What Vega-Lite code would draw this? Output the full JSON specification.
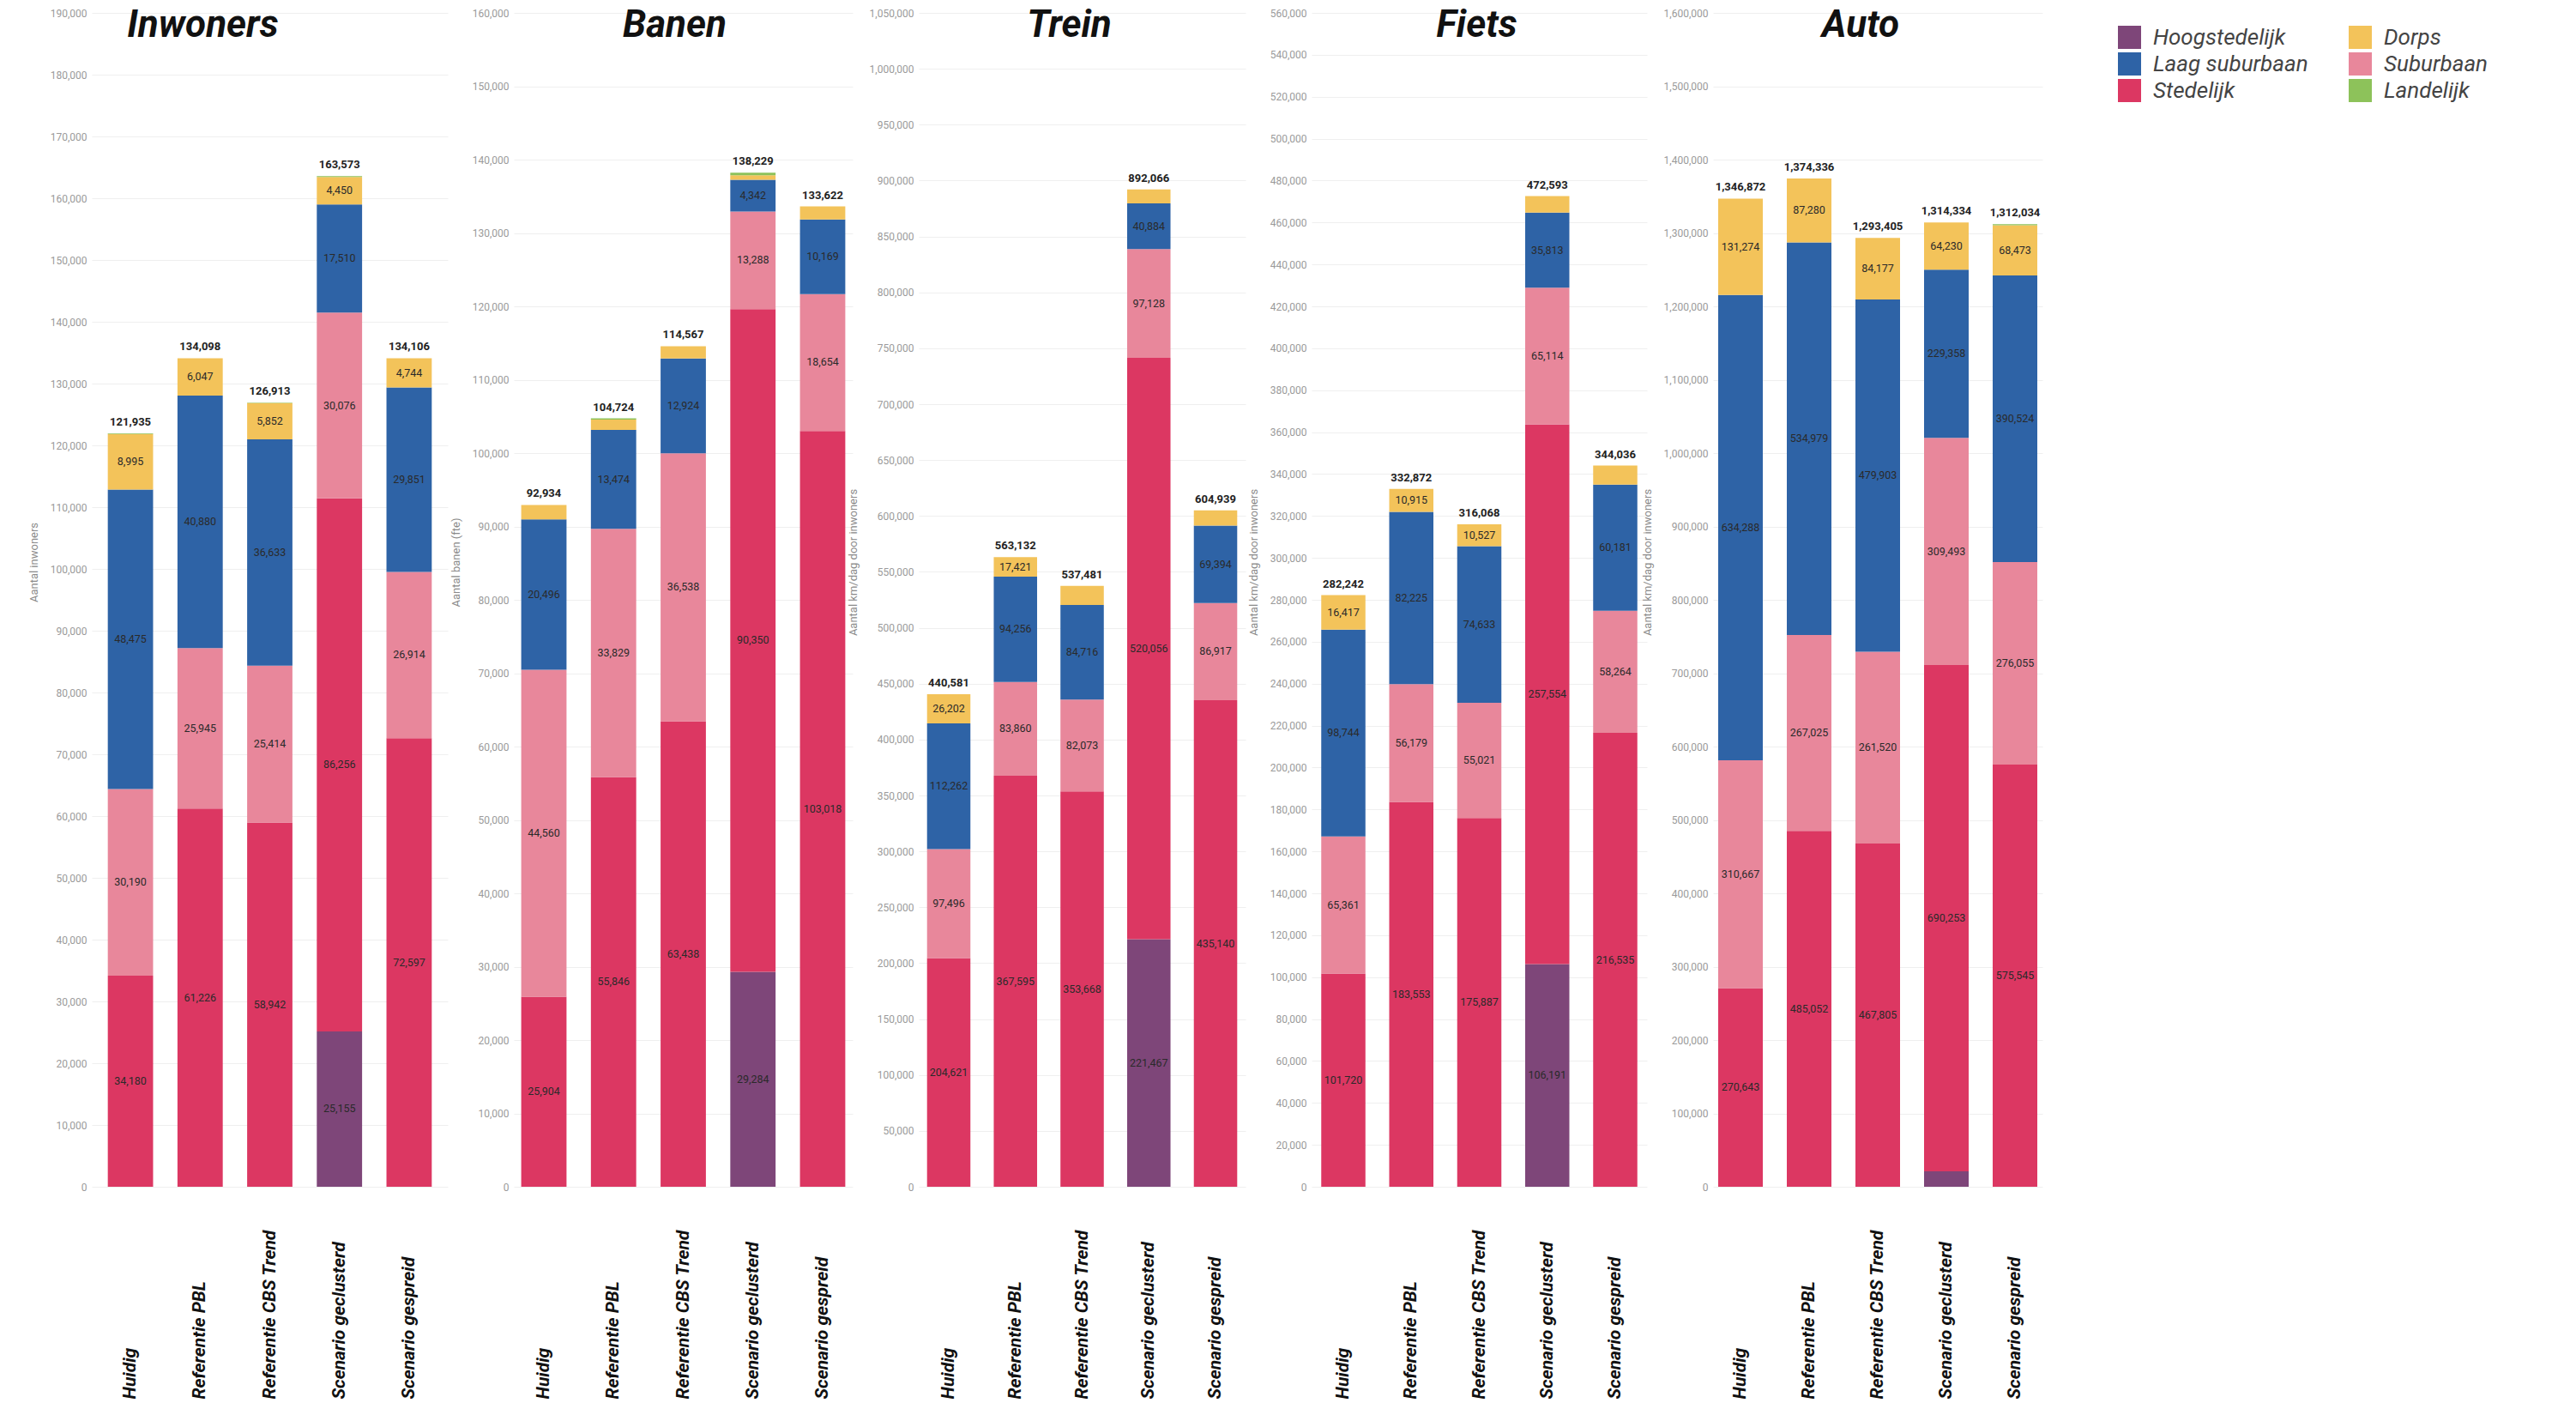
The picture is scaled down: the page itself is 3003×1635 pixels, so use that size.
{
  "$schema": "https://vega.github.io/schema/vega-lite/v6.json",
  "background": "white",
  "padding": {"left": 33, "top": 8, "right": 0, "bottom": 0},
  "spacing": 77,
  "bounds": "flush",
  "config": {
    "font": "Roboto",
    "view": {"stroke": null},
    "title": {"fontSize": 44, "fontWeight": "bold", "fontStyle": "italic", "font": "Liberation Sans Narrow, Roboto", "color": "#111111", "anchor": "middle", "frame": "group", "baseline": "alphabetic"},
    "axisY": {"format": ",d", "labelFontSize": 12, "labelColor": "#9a9a9a", "ticks": false, "domain": false, "gridColor": "#efefef", "titleFontSize": 13, "titleColor": "#8a8a8a", "titleFontWeight": "normal", "labelPadding": 6, "titleY": 640, "titlePadding": 12},
    "axisX": {"labelAngle": -90, "labelAlign": "left", "labelBaseline": "middle", "labelPadding": 247, "labelFontSize": 21, "labelFontWeight": "bold", "labelFontStyle": "italic", "labelColor": "#111111", "ticks": false, "domain": false, "grid": false, "labelLimit": 0}
  },
  "datasets": {
    "d": [
      {"p": "Inwoners", "s": "Huidig", "c": "Stedelijk", "v": 34180},
      {"p": "Inwoners", "s": "Huidig", "c": "Suburbaan", "v": 30190},
      {"p": "Inwoners", "s": "Huidig", "c": "Laag suburbaan", "v": 48475},
      {"p": "Inwoners", "s": "Huidig", "c": "Dorps", "v": 8995},
      {"p": "Inwoners", "s": "Huidig", "c": "Landelijk", "v": 95},
      {"p": "Inwoners", "s": "Referentie PBL", "c": "Stedelijk", "v": 61226},
      {"p": "Inwoners", "s": "Referentie PBL", "c": "Suburbaan", "v": 25945},
      {"p": "Inwoners", "s": "Referentie PBL", "c": "Laag suburbaan", "v": 40880},
      {"p": "Inwoners", "s": "Referentie PBL", "c": "Dorps", "v": 6047},
      {"p": "Inwoners", "s": "Referentie CBS Trend", "c": "Stedelijk", "v": 58942},
      {"p": "Inwoners", "s": "Referentie CBS Trend", "c": "Suburbaan", "v": 25414},
      {"p": "Inwoners", "s": "Referentie CBS Trend", "c": "Laag suburbaan", "v": 36633},
      {"p": "Inwoners", "s": "Referentie CBS Trend", "c": "Dorps", "v": 5852},
      {"p": "Inwoners", "s": "Referentie CBS Trend", "c": "Landelijk", "v": 72},
      {"p": "Inwoners", "s": "Scenario geclusterd", "c": "Hoogstedelijk", "v": 25155},
      {"p": "Inwoners", "s": "Scenario geclusterd", "c": "Stedelijk", "v": 86256},
      {"p": "Inwoners", "s": "Scenario geclusterd", "c": "Suburbaan", "v": 30076},
      {"p": "Inwoners", "s": "Scenario geclusterd", "c": "Laag suburbaan", "v": 17510},
      {"p": "Inwoners", "s": "Scenario geclusterd", "c": "Dorps", "v": 4450},
      {"p": "Inwoners", "s": "Scenario geclusterd", "c": "Landelijk", "v": 126},
      {"p": "Inwoners", "s": "Scenario gespreid", "c": "Stedelijk", "v": 72597},
      {"p": "Inwoners", "s": "Scenario gespreid", "c": "Suburbaan", "v": 26914},
      {"p": "Inwoners", "s": "Scenario gespreid", "c": "Laag suburbaan", "v": 29851},
      {"p": "Inwoners", "s": "Scenario gespreid", "c": "Dorps", "v": 4744},

      {"p": "Banen", "s": "Huidig", "c": "Stedelijk", "v": 25904},
      {"p": "Banen", "s": "Huidig", "c": "Suburbaan", "v": 44560},
      {"p": "Banen", "s": "Huidig", "c": "Laag suburbaan", "v": 20496},
      {"p": "Banen", "s": "Huidig", "c": "Dorps", "v": 1974},
      {"p": "Banen", "s": "Referentie PBL", "c": "Stedelijk", "v": 55846},
      {"p": "Banen", "s": "Referentie PBL", "c": "Suburbaan", "v": 33829},
      {"p": "Banen", "s": "Referentie PBL", "c": "Laag suburbaan", "v": 13474},
      {"p": "Banen", "s": "Referentie PBL", "c": "Dorps", "v": 1425},
      {"p": "Banen", "s": "Referentie PBL", "c": "Landelijk", "v": 150},
      {"p": "Banen", "s": "Referentie CBS Trend", "c": "Stedelijk", "v": 63438},
      {"p": "Banen", "s": "Referentie CBS Trend", "c": "Suburbaan", "v": 36538},
      {"p": "Banen", "s": "Referentie CBS Trend", "c": "Laag suburbaan", "v": 12924},
      {"p": "Banen", "s": "Referentie CBS Trend", "c": "Dorps", "v": 1667},
      {"p": "Banen", "s": "Scenario geclusterd", "c": "Hoogstedelijk", "v": 29284},
      {"p": "Banen", "s": "Scenario geclusterd", "c": "Stedelijk", "v": 90350},
      {"p": "Banen", "s": "Scenario geclusterd", "c": "Suburbaan", "v": 13288},
      {"p": "Banen", "s": "Scenario geclusterd", "c": "Laag suburbaan", "v": 4342},
      {"p": "Banen", "s": "Scenario geclusterd", "c": "Dorps", "v": 600},
      {"p": "Banen", "s": "Scenario geclusterd", "c": "Landelijk", "v": 365},
      {"p": "Banen", "s": "Scenario gespreid", "c": "Stedelijk", "v": 103018},
      {"p": "Banen", "s": "Scenario gespreid", "c": "Suburbaan", "v": 18654},
      {"p": "Banen", "s": "Scenario gespreid", "c": "Laag suburbaan", "v": 10169},
      {"p": "Banen", "s": "Scenario gespreid", "c": "Dorps", "v": 1781},

      {"p": "Trein", "s": "Huidig", "c": "Stedelijk", "v": 204621},
      {"p": "Trein", "s": "Huidig", "c": "Suburbaan", "v": 97496},
      {"p": "Trein", "s": "Huidig", "c": "Laag suburbaan", "v": 112262},
      {"p": "Trein", "s": "Huidig", "c": "Dorps", "v": 26202},
      {"p": "Trein", "s": "Referentie PBL", "c": "Stedelijk", "v": 367595},
      {"p": "Trein", "s": "Referentie PBL", "c": "Suburbaan", "v": 83860},
      {"p": "Trein", "s": "Referentie PBL", "c": "Laag suburbaan", "v": 94256},
      {"p": "Trein", "s": "Referentie PBL", "c": "Dorps", "v": 17421},
      {"p": "Trein", "s": "Referentie CBS Trend", "c": "Stedelijk", "v": 353668},
      {"p": "Trein", "s": "Referentie CBS Trend", "c": "Suburbaan", "v": 82073},
      {"p": "Trein", "s": "Referentie CBS Trend", "c": "Laag suburbaan", "v": 84716},
      {"p": "Trein", "s": "Referentie CBS Trend", "c": "Dorps", "v": 17024},
      {"p": "Trein", "s": "Scenario geclusterd", "c": "Hoogstedelijk", "v": 221467},
      {"p": "Trein", "s": "Scenario geclusterd", "c": "Stedelijk", "v": 520056},
      {"p": "Trein", "s": "Scenario geclusterd", "c": "Suburbaan", "v": 97128},
      {"p": "Trein", "s": "Scenario geclusterd", "c": "Laag suburbaan", "v": 40884},
      {"p": "Trein", "s": "Scenario geclusterd", "c": "Dorps", "v": 12531},
      {"p": "Trein", "s": "Scenario gespreid", "c": "Stedelijk", "v": 435140},
      {"p": "Trein", "s": "Scenario gespreid", "c": "Suburbaan", "v": 86917},
      {"p": "Trein", "s": "Scenario gespreid", "c": "Laag suburbaan", "v": 69394},
      {"p": "Trein", "s": "Scenario gespreid", "c": "Dorps", "v": 13488},

      {"p": "Fiets", "s": "Huidig", "c": "Stedelijk", "v": 101720},
      {"p": "Fiets", "s": "Huidig", "c": "Suburbaan", "v": 65361},
      {"p": "Fiets", "s": "Huidig", "c": "Laag suburbaan", "v": 98744},
      {"p": "Fiets", "s": "Huidig", "c": "Dorps", "v": 16417},
      {"p": "Fiets", "s": "Referentie PBL", "c": "Stedelijk", "v": 183553},
      {"p": "Fiets", "s": "Referentie PBL", "c": "Suburbaan", "v": 56179},
      {"p": "Fiets", "s": "Referentie PBL", "c": "Laag suburbaan", "v": 82225},
      {"p": "Fiets", "s": "Referentie PBL", "c": "Dorps", "v": 10915},
      {"p": "Fiets", "s": "Referentie CBS Trend", "c": "Stedelijk", "v": 175887},
      {"p": "Fiets", "s": "Referentie CBS Trend", "c": "Suburbaan", "v": 55021},
      {"p": "Fiets", "s": "Referentie CBS Trend", "c": "Laag suburbaan", "v": 74633},
      {"p": "Fiets", "s": "Referentie CBS Trend", "c": "Dorps", "v": 10527},
      {"p": "Fiets", "s": "Scenario geclusterd", "c": "Hoogstedelijk", "v": 106191},
      {"p": "Fiets", "s": "Scenario geclusterd", "c": "Stedelijk", "v": 257554},
      {"p": "Fiets", "s": "Scenario geclusterd", "c": "Suburbaan", "v": 65114},
      {"p": "Fiets", "s": "Scenario geclusterd", "c": "Laag suburbaan", "v": 35813},
      {"p": "Fiets", "s": "Scenario geclusterd", "c": "Dorps", "v": 7921},
      {"p": "Fiets", "s": "Scenario gespreid", "c": "Stedelijk", "v": 216535},
      {"p": "Fiets", "s": "Scenario gespreid", "c": "Suburbaan", "v": 58264},
      {"p": "Fiets", "s": "Scenario gespreid", "c": "Laag suburbaan", "v": 60181},
      {"p": "Fiets", "s": "Scenario gespreid", "c": "Dorps", "v": 9056},

      {"p": "Auto", "s": "Huidig", "c": "Stedelijk", "v": 270643},
      {"p": "Auto", "s": "Huidig", "c": "Suburbaan", "v": 310667},
      {"p": "Auto", "s": "Huidig", "c": "Laag suburbaan", "v": 634288},
      {"p": "Auto", "s": "Huidig", "c": "Dorps", "v": 131274},
      {"p": "Auto", "s": "Referentie PBL", "c": "Stedelijk", "v": 485052},
      {"p": "Auto", "s": "Referentie PBL", "c": "Suburbaan", "v": 267025},
      {"p": "Auto", "s": "Referentie PBL", "c": "Laag suburbaan", "v": 534979},
      {"p": "Auto", "s": "Referentie PBL", "c": "Dorps", "v": 87280},
      {"p": "Auto", "s": "Referentie CBS Trend", "c": "Stedelijk", "v": 467805},
      {"p": "Auto", "s": "Referentie CBS Trend", "c": "Suburbaan", "v": 261520},
      {"p": "Auto", "s": "Referentie CBS Trend", "c": "Laag suburbaan", "v": 479903},
      {"p": "Auto", "s": "Referentie CBS Trend", "c": "Dorps", "v": 84177},
      {"p": "Auto", "s": "Scenario geclusterd", "c": "Hoogstedelijk", "v": 21000},
      {"p": "Auto", "s": "Scenario geclusterd", "c": "Stedelijk", "v": 690253},
      {"p": "Auto", "s": "Scenario geclusterd", "c": "Suburbaan", "v": 309493},
      {"p": "Auto", "s": "Scenario geclusterd", "c": "Laag suburbaan", "v": 229358},
      {"p": "Auto", "s": "Scenario geclusterd", "c": "Dorps", "v": 64230},
      {"p": "Auto", "s": "Scenario gespreid", "c": "Stedelijk", "v": 575545},
      {"p": "Auto", "s": "Scenario gespreid", "c": "Suburbaan", "v": 276055},
      {"p": "Auto", "s": "Scenario gespreid", "c": "Laag suburbaan", "v": 390524},
      {"p": "Auto", "s": "Scenario gespreid", "c": "Dorps", "v": 68473},
      {"p": "Auto", "s": "Scenario gespreid", "c": "Landelijk", "v": 1437}
    ]
  },
  "data": {"name": "d"},
  "hconcat": [
    {
      "width": 415, "height": 1368,
      "title": {"text": "Inwoners", "dx": -78, "offset": -43},
      "transform": [
        {"filter": "datum.p === 'Inwoners'"},
        {"calculate": "indexof(['Hoogstedelijk','Stedelijk','Suburbaan','Laag suburbaan','Dorps','Landelijk'], datum.c)", "as": "k"},
        {"stack": "v", "groupby": ["s"], "sort": [{"field": "k", "order": "ascending"}], "as": ["v0", "v1"]},
        {"calculate": "(datum.v0 + datum.v1) / 2", "as": "vm"}
      ],
      "encoding": {"x": {"field": "s", "type": "nominal", "sort": ["Huidig", "Referentie PBL", "Referentie CBS Trend", "Scenario geclusterd", "Scenario gespreid"], "scale": {"paddingInner": 0.35, "paddingOuter": 0.23}, "axis": {"title": null}}},
      "layer": [
        {"mark": {"type": "bar"}, "encoding": {
          "y": {"field": "v0", "type": "quantitative", "scale": {"domain": [0, 190000], "nice": false}, "axis": {"title": "Aantal inwoners", "format": ",d", "values": [0,10000,20000,30000,40000,50000,60000,70000,80000,90000,100000,110000,120000,130000,140000,150000,160000,170000,180000,190000]}},
          "y2": {"field": "v1"},
          "color": {"field": "c", "type": "nominal", "scale": {"domain": ["Hoogstedelijk", "Laag suburbaan", "Stedelijk", "Dorps", "Suburbaan", "Landelijk"], "range": ["#7e4679", "#2e63a6", "#dc3762", "#f3c35a", "#e8879b", "#8dc25a"]},
            "legend": {"orient": "right", "offset": 73, "padding": 15, "title": null, "columns": 2, "symbolType": "square", "symbolSize": 729, "symbolStrokeWidth": 0, "labelFontSize": 26, "labelFontStyle": "italic", "labelColor": "#444444", "labelOffset": 14, "columnPadding": 47, "rowPadding": 4, "labelLimit": 0}}
        }},
        {"transform": [{"filter": "datum.v > 1000"}], "mark": {"type": "text", "fontSize": 12.5, "color": "#2a2a2a"}, "encoding": {
          "y": {"field": "vm", "type": "quantitative", "axis": {"title": "Aantal inwoners", "format": ",d", "values": [0,10000,20000,30000,40000,50000,60000,70000,80000,90000,100000,110000,120000,130000,140000,150000,160000,170000,180000,190000]}},
          "text": {"field": "v", "type": "quantitative", "format": ","}
        }},
        {"transform": [{"aggregate": [{"op": "sum", "field": "v", "as": "t"}], "groupby": ["s"]}], "mark": {"type": "text", "fontSize": 13, "fontWeight": "bold", "color": "#222222", "baseline": "bottom", "dy": -6}, "encoding": {
          "y": {"field": "t", "type": "quantitative", "axis": {"title": "Aantal inwoners", "format": ",d", "values": [0,10000,20000,30000,40000,50000,60000,70000,80000,90000,100000,110000,120000,130000,140000,150000,160000,170000,180000,190000]}},
          "text": {"field": "t", "type": "quantitative", "format": ","}
        }}
      ]
    },
    {
      "width": 395, "height": 1368,
      "title": {"text": "Banen", "dx": -10, "offset": -43},
      "transform": [
        {"filter": "datum.p === 'Banen'"},
        {"calculate": "indexof(['Hoogstedelijk','Stedelijk','Suburbaan','Laag suburbaan','Dorps','Landelijk'], datum.c)", "as": "k"},
        {"stack": "v", "groupby": ["s"], "sort": [{"field": "k", "order": "ascending"}], "as": ["v0", "v1"]},
        {"calculate": "(datum.v0 + datum.v1) / 2", "as": "vm"}
      ],
      "encoding": {"x": {"field": "s", "type": "nominal", "sort": ["Huidig", "Referentie PBL", "Referentie CBS Trend", "Scenario geclusterd", "Scenario gespreid"], "scale": {"paddingInner": 0.35, "paddingOuter": 0.106}, "axis": {"title": null}}},
      "layer": [
        {"mark": {"type": "bar"}, "encoding": {
          "y": {"field": "v0", "type": "quantitative", "scale": {"domain": [0, 160000], "nice": false}, "axis": {"title": "Aantal banen (fte)", "format": ",d", "values": [0,10000,20000,30000,40000,50000,60000,70000,80000,90000,100000,110000,120000,130000,140000,150000,160000]}},
          "y2": {"field": "v1"},
          "color": {"field": "c", "type": "nominal"}
        }},
        {"transform": [{"filter": "datum.v > 3000"}], "mark": {"type": "text", "fontSize": 12.5, "color": "#2a2a2a"}, "encoding": {
          "y": {"field": "vm", "type": "quantitative", "axis": {"title": "Aantal banen (fte)", "format": ",d", "values": [0,10000,20000,30000,40000,50000,60000,70000,80000,90000,100000,110000,120000,130000,140000,150000,160000]}},
          "text": {"field": "v", "type": "quantitative", "format": ","}
        }},
        {"transform": [{"aggregate": [{"op": "sum", "field": "v", "as": "t"}], "groupby": ["s"]}], "mark": {"type": "text", "fontSize": 13, "fontWeight": "bold", "color": "#222222", "baseline": "bottom", "dy": -6}, "encoding": {
          "y": {"field": "t", "type": "quantitative", "axis": {"title": "Aantal banen (fte)", "format": ",d", "values": [0,10000,20000,30000,40000,50000,60000,70000,80000,90000,100000,110000,120000,130000,140000,150000,160000]}},
          "text": {"field": "t", "type": "quantitative", "format": ","}
        }}
      ]
    },
    {
      "width": 381, "height": 1368,
      "title": {"text": "Trein", "dx": -15, "offset": -43},
      "transform": [
        {"filter": "datum.p === 'Trein'"},
        {"calculate": "indexof(['Hoogstedelijk','Stedelijk','Suburbaan','Laag suburbaan','Dorps','Landelijk'], datum.c)", "as": "k"},
        {"stack": "v", "groupby": ["s"], "sort": [{"field": "k", "order": "ascending"}], "as": ["v0", "v1"]},
        {"calculate": "(datum.v0 + datum.v1) / 2", "as": "vm"}
      ],
      "encoding": {"x": {"field": "s", "type": "nominal", "sort": ["Huidig", "Referentie PBL", "Referentie CBS Trend", "Scenario geclusterd", "Scenario gespreid"], "scale": {"paddingInner": 0.35, "paddingOuter": 0.125}, "axis": {"title": null}}},
      "layer": [
        {"mark": {"type": "bar"}, "encoding": {
          "y": {"field": "v0", "type": "quantitative", "scale": {"domain": [0, 1050000], "nice": false}, "axis": {"title": "Aantal km/dag door inwoners", "format": ",d", "values": [0,50000,100000,150000,200000,250000,300000,350000,400000,450000,500000,550000,600000,650000,700000,750000,800000,850000,900000,950000,1000000,1050000]}},
          "y2": {"field": "v1"},
          "color": {"field": "c", "type": "nominal"}
        }},
        {"transform": [{"filter": "datum.v > 17200"}], "mark": {"type": "text", "fontSize": 12.5, "color": "#2a2a2a"}, "encoding": {
          "y": {"field": "vm", "type": "quantitative", "axis": {"title": "Aantal km/dag door inwoners", "format": ",d", "values": [0,50000,100000,150000,200000,250000,300000,350000,400000,450000,500000,550000,600000,650000,700000,750000,800000,850000,900000,950000,1000000,1050000]}},
          "text": {"field": "v", "type": "quantitative", "format": ","}
        }},
        {"transform": [{"aggregate": [{"op": "sum", "field": "v", "as": "t"}], "groupby": ["s"]}], "mark": {"type": "text", "fontSize": 13, "fontWeight": "bold", "color": "#222222", "baseline": "bottom", "dy": -6}, "encoding": {
          "y": {"field": "t", "type": "quantitative", "axis": {"title": "Aantal km/dag door inwoners", "format": ",d", "values": [0,50000,100000,150000,200000,250000,300000,350000,400000,450000,500000,550000,600000,650000,700000,750000,800000,850000,900000,950000,1000000,1050000]}},
          "text": {"field": "t", "type": "quantitative", "format": ","}
        }}
      ]
    },
    {
      "width": 391, "height": 1368,
      "title": {"text": "Fiets", "dx": -3, "offset": -43},
      "transform": [
        {"filter": "datum.p === 'Fiets'"},
        {"calculate": "indexof(['Hoogstedelijk','Stedelijk','Suburbaan','Laag suburbaan','Dorps','Landelijk'], datum.c)", "as": "k"},
        {"stack": "v", "groupby": ["s"], "sort": [{"field": "k", "order": "ascending"}], "as": ["v0", "v1"]},
        {"calculate": "(datum.v0 + datum.v1) / 2", "as": "vm"}
      ],
      "encoding": {"x": {"field": "s", "type": "nominal", "sort": ["Huidig", "Referentie PBL", "Referentie CBS Trend", "Scenario geclusterd", "Scenario gespreid"], "scale": {"paddingInner": 0.35, "paddingOuter": 0.142}, "axis": {"title": null}}},
      "layer": [
        {"mark": {"type": "bar"}, "encoding": {
          "y": {"field": "v0", "type": "quantitative", "scale": {"domain": [0, 560000], "nice": false}, "axis": {"title": "Aantal km/dag door inwoners", "format": ",d", "values": [0,20000,40000,60000,80000,100000,120000,140000,160000,180000,200000,220000,240000,260000,280000,300000,320000,340000,360000,380000,400000,420000,440000,460000,480000,500000,520000,540000,560000]}},
          "y2": {"field": "v1"},
          "color": {"field": "c", "type": "nominal"}
        }},
        {"transform": [{"filter": "datum.v > 10000"}], "mark": {"type": "text", "fontSize": 12.5, "color": "#2a2a2a"}, "encoding": {
          "y": {"field": "vm", "type": "quantitative", "axis": {"title": "Aantal km/dag door inwoners", "format": ",d", "values": [0,20000,40000,60000,80000,100000,120000,140000,160000,180000,200000,220000,240000,260000,280000,300000,320000,340000,360000,380000,400000,420000,440000,460000,480000,500000,520000,540000,560000]}},
          "text": {"field": "v", "type": "quantitative", "format": ","}
        }},
        {"transform": [{"aggregate": [{"op": "sum", "field": "v", "as": "t"}], "groupby": ["s"]}], "mark": {"type": "text", "fontSize": 13, "fontWeight": "bold", "color": "#222222", "baseline": "bottom", "dy": -6}, "encoding": {
          "y": {"field": "t", "type": "quantitative", "axis": {"title": "Aantal km/dag door inwoners", "format": ",d", "values": [0,20000,40000,60000,80000,100000,120000,140000,160000,180000,200000,220000,240000,260000,280000,300000,320000,340000,360000,380000,400000,420000,440000,460000,480000,500000,520000,540000,560000]}},
          "text": {"field": "t", "type": "quantitative", "format": ","}
        }}
      ]
    },
    {
      "width": 384, "height": 1368,
      "title": {"text": "Auto", "dx": -20, "offset": -43},
      "transform": [
        {"filter": "datum.p === 'Auto'"},
        {"calculate": "indexof(['Hoogstedelijk','Stedelijk','Suburbaan','Laag suburbaan','Dorps','Landelijk'], datum.c)", "as": "k"},
        {"stack": "v", "groupby": ["s"], "sort": [{"field": "k", "order": "ascending"}], "as": ["v0", "v1"]},
        {"calculate": "(datum.v0 + datum.v1) / 2", "as": "vm"}
      ],
      "encoding": {"x": {"field": "s", "type": "nominal", "sort": ["Huidig", "Referentie PBL", "Referentie CBS Trend", "Scenario geclusterd", "Scenario gespreid"], "scale": {"paddingInner": 0.35, "paddingOuter": 0.075}, "axis": {"title": null}}},
      "layer": [
        {"mark": {"type": "bar"}, "encoding": {
          "y": {"field": "v0", "type": "quantitative", "scale": {"domain": [0, 1600000], "nice": false}, "axis": {"title": "Aantal km/dag door inwoners", "format": ",d", "values": [0,100000,200000,300000,400000,500000,600000,700000,800000,900000,1000000,1100000,1200000,1300000,1400000,1500000,1600000]}},
          "y2": {"field": "v1"},
          "color": {"field": "c", "type": "nominal"}
        }},
        {"transform": [{"filter": "datum.v > 30000"}], "mark": {"type": "text", "fontSize": 12.5, "color": "#2a2a2a"}, "encoding": {
          "y": {"field": "vm", "type": "quantitative", "axis": {"title": "Aantal km/dag door inwoners", "format": ",d", "values": [0,100000,200000,300000,400000,500000,600000,700000,800000,900000,1000000,1100000,1200000,1300000,1400000,1500000,1600000]}},
          "text": {"field": "v", "type": "quantitative", "format": ","}
        }},
        {"transform": [{"aggregate": [{"op": "sum", "field": "v", "as": "t"}], "groupby": ["s"]}], "mark": {"type": "text", "fontSize": 13, "fontWeight": "bold", "color": "#222222", "baseline": "bottom", "dy": -6}, "encoding": {
          "y": {"field": "t", "type": "quantitative", "axis": {"title": "Aantal km/dag door inwoners", "format": ",d", "values": [0,100000,200000,300000,400000,500000,600000,700000,800000,900000,1000000,1100000,1200000,1300000,1400000,1500000,1600000]}},
          "text": {"field": "t", "type": "quantitative", "format": ","}
        }}
      ]
    }
  ]
}
